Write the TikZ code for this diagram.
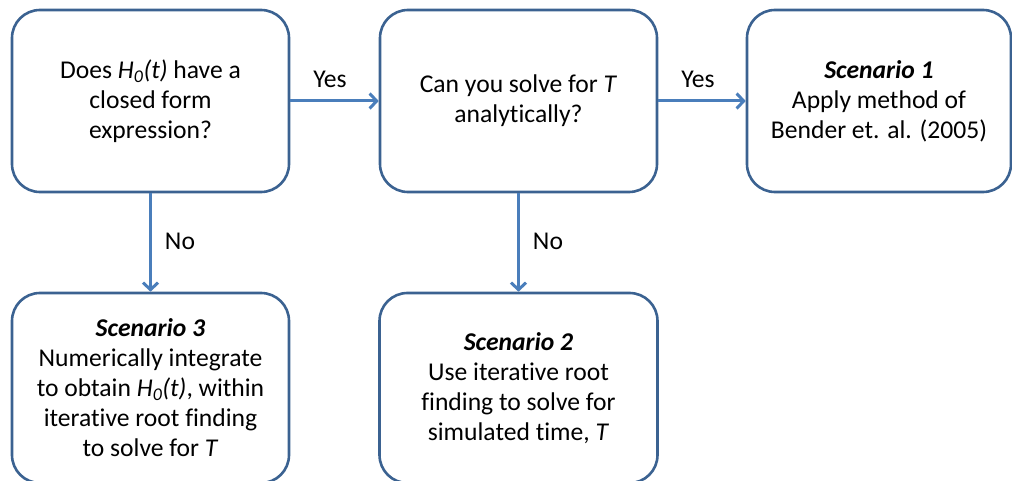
\documentclass[tikz,border=0pt]{standalone}
\usepackage{fontspec}
\setmainfont{Carlito}[Ligatures=NoCommon]
\usetikzlibrary{arrows.meta}
\definecolor{boxc}{RGB}{59,98,145}
\definecolor{arrc}{RGB}{74,126,187}
\begin{document}
\begin{tikzpicture}[x=1pt,y=-1pt,
  box/.style={draw=boxc, line width=2.6pt, rounded corners=28pt, align=center,
    font=\fontsize{25.6}{30}\selectfont, inner sep=0pt},
  conn/.style={draw=arrc, line width=3pt, -{Straight Barb[length=7pt,width=15pt,line width=3pt]}},
  lab/.style={font=\fontsize{25.6}{30}\selectfont, inner sep=0pt}]
\useasboundingbox (0,0) rectangle (1012,481);
\node[box, minimum width=277pt, minimum height=182pt] (a) at (150.5,101)
  {Does {\itshape H\textsubscript{0}(t)} have a\\closed form\\expression?};
\node[box, minimum width=277pt, minimum height=182pt] (b) at (518.5,101)
  {Can you solve for \textit{T}\\analytically?};
\node[box, minimum width=264pt, minimum height=182pt] (c) at (879,101)
  {\textbf{\textit{Scenario 1}}\\Apply method of\\Bender et. al. (2005)};
\node[box, minimum width=277pt, minimum height=190pt] (d) at (150.5,388)
  {\textbf{\textit{Scenario 3}}\\Numerically integrate\\to obtain {\itshape H\textsubscript{0}(t)}, within\\iterative root finding\\to solve for \textit{T}};
\node[box, minimum width=278pt, minimum height=190pt] (e) at (518.5,388)
  {\textbf{\textit{Scenario 2}}\\Use iterative root\\finding to solve for\\simulated time, \textit{T}};
\draw[conn] (a.east) -- (b.west);
\draw[conn] (b.east) -- (c.west);
\draw[conn] (a.south) -- (d.north);
\draw[conn] (b.south) -- (e.north);
\node[lab] (y1) at (330,79) {Yes};
\node[lab] (y2) at (698,79) {Yes};
\node[lab] (n1) at (180,241) {No};
\node[lab] (n2) at (548,241) {No};
\end{tikzpicture}
\end{document}
